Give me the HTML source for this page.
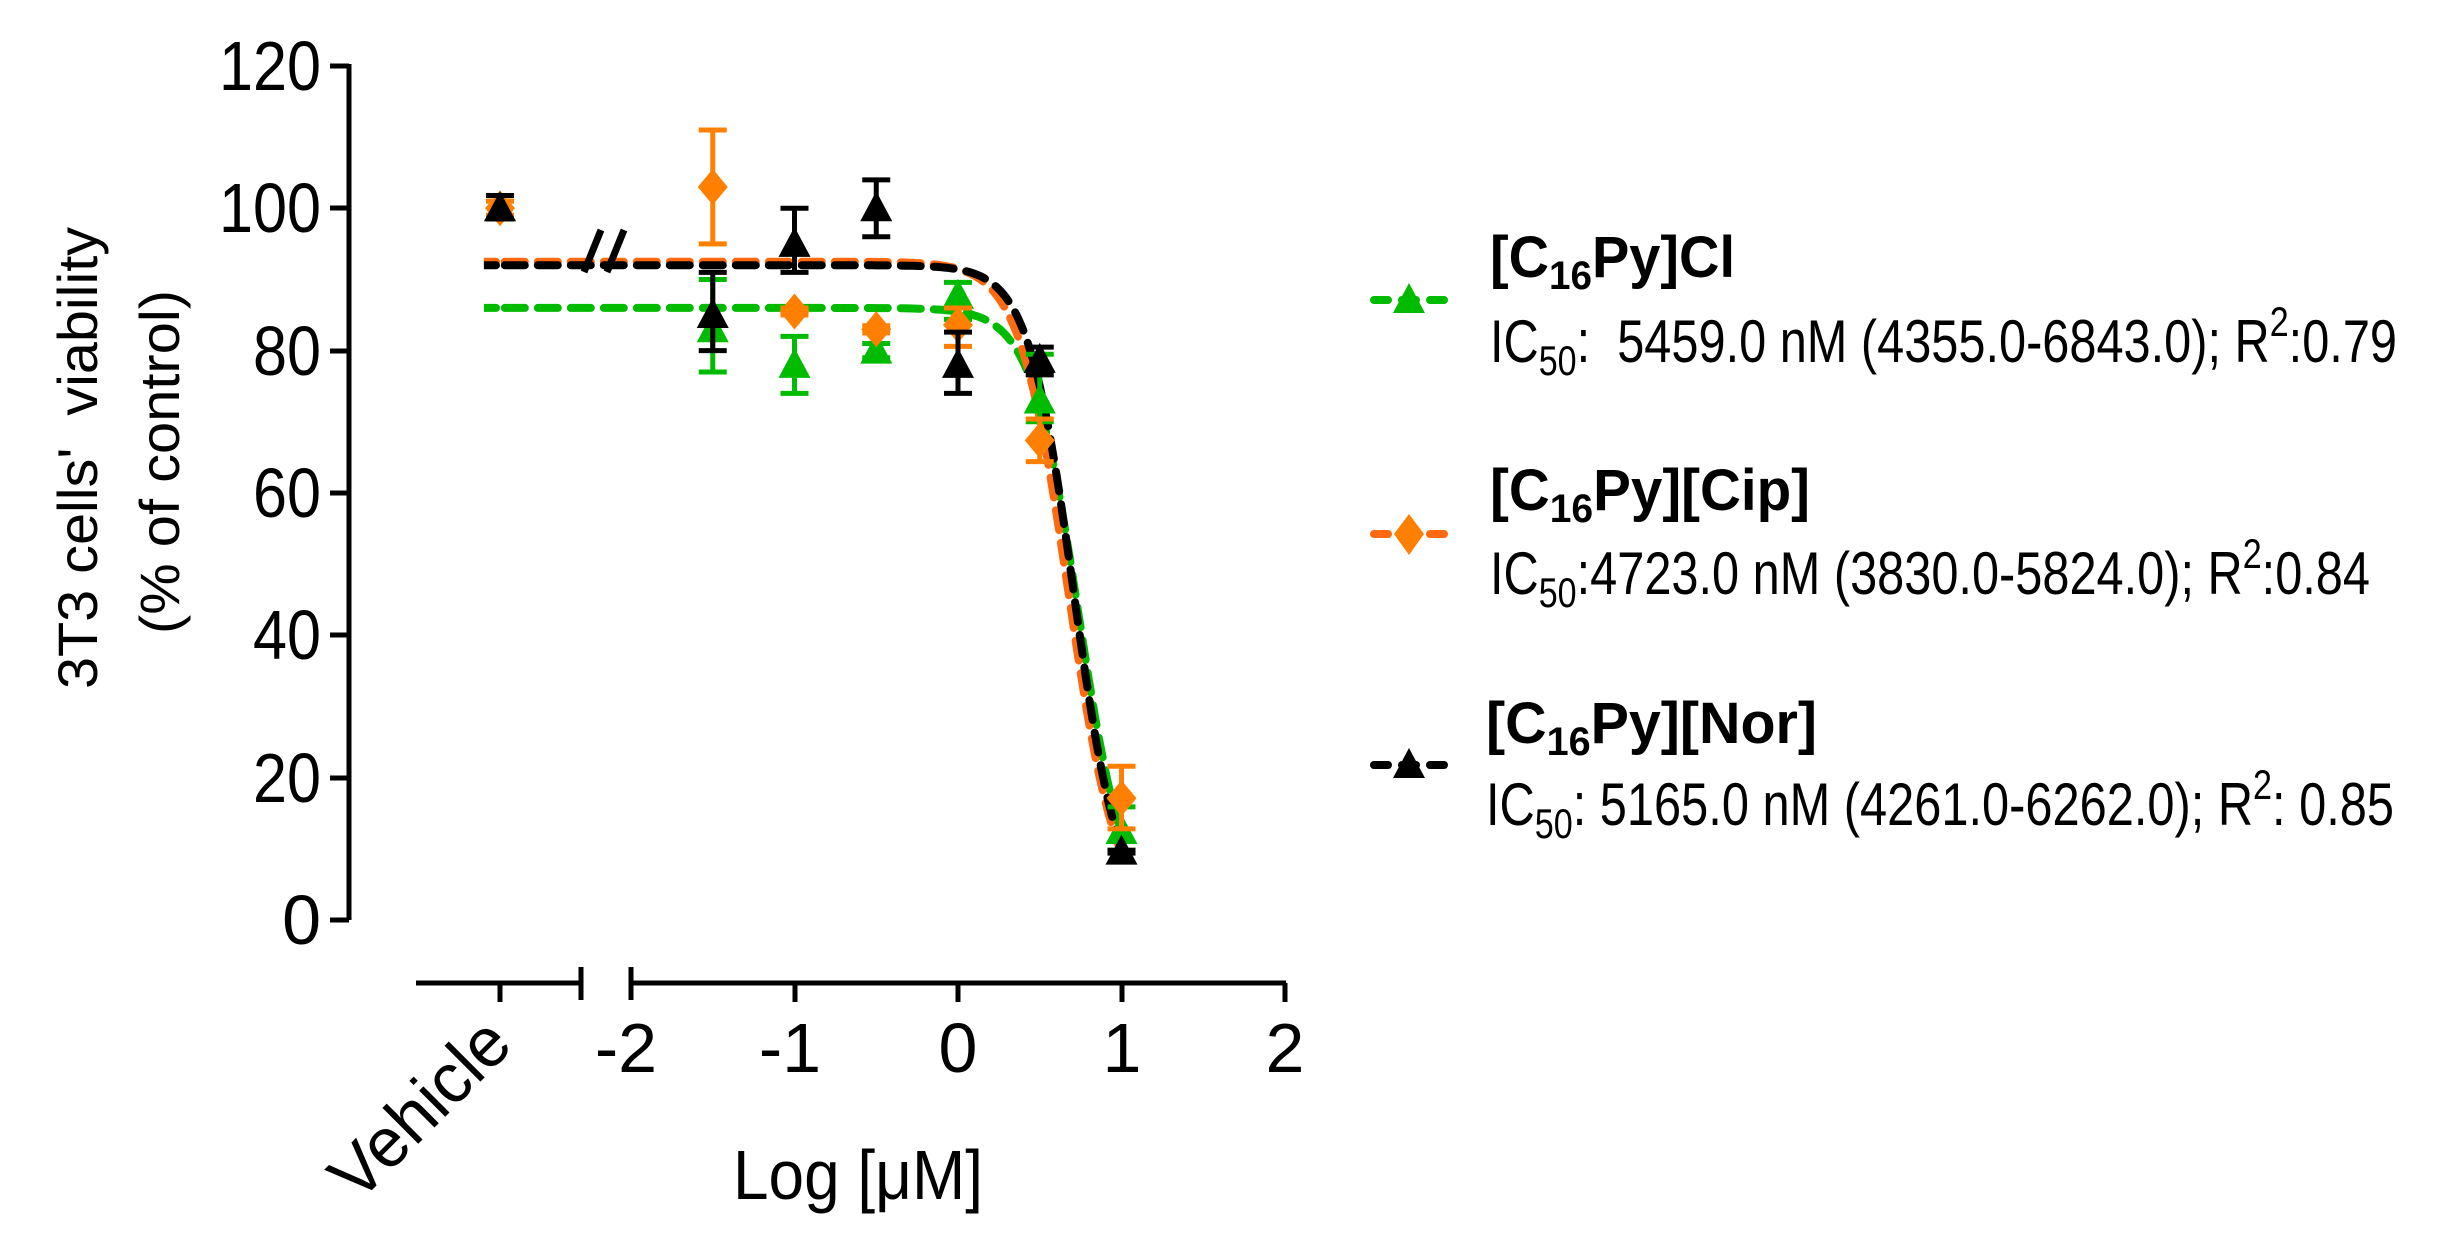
<!DOCTYPE html>
<html><head><meta charset="utf-8"><style>html,body{margin:0;padding:0;background:#fff}svg{display:block}</style></head>
<body>
<svg id="s" xmlns="http://www.w3.org/2000/svg" width="2442" height="1250" viewBox="0 0 2442 1250" font-family="Liberation Sans, Arial, sans-serif">
<rect width="2442" height="1250" fill="#fff"/>
<g stroke="#000" stroke-width="5" fill="none">
<path d="M349,64V920"/>
<path d="M330,66H349M330,208H349M330,351H349M330,493H349M330,635H349M330,778H349M330,920H349"/>
<path d="M416,983H581M581,967V1000M500,983V1002"/>
<path d="M631,983H1286M631,967V1000M795,983V1002M958,983V1002M1122,983V1002M1285,983V1002"/>
</g>
<g font-size="70" text-anchor="end" fill="#000">
<text x="321" y="90" textLength="102" lengthAdjust="spacingAndGlyphs">120</text><text x="321" y="232" textLength="102" lengthAdjust="spacingAndGlyphs">100</text><text x="321" y="375" textLength="68" lengthAdjust="spacingAndGlyphs">80</text><text x="321" y="517" textLength="68" lengthAdjust="spacingAndGlyphs">60</text><text x="321" y="659" textLength="68" lengthAdjust="spacingAndGlyphs">40</text><text x="321" y="802" textLength="68" lengthAdjust="spacingAndGlyphs">20</text><text x="321" y="944">0</text>
</g>
<g font-size="70" text-anchor="middle" fill="#000">
<text x="626" y="1072">-2</text><text x="790" y="1072">-1</text><text x="958" y="1072">0</text><text x="1122" y="1072">1</text><text x="1285" y="1072">2</text>
<text x="858" y="1199" textLength="250" lengthAdjust="spacingAndGlyphs">Log [μM]</text>
</g>
<text x="0" y="0" font-size="70" text-anchor="end" transform="translate(515,1047) rotate(-45)" textLength="222" lengthAdjust="spacingAndGlyphs">Vehicle</text>
<g font-size="56" text-anchor="middle">
<text transform="translate(97,458) rotate(-90)" textLength="462" lengthAdjust="spacingAndGlyphs" xml:space="preserve">3T3 cells'  viability</text>
<text transform="translate(179,462) rotate(-90)" textLength="344" lengthAdjust="spacingAndGlyphs">(% of control)</text>
</g>
<g id="curves" fill="none" stroke-width="8" stroke-dasharray="20 13" stroke-linecap="round"></g>
<g stroke="#000" stroke-width="7"><path d="M584,272L601,230M607,272L624,230"/></g>
<g id="pts"></g>
<g stroke-width="8" stroke-dasharray="14 14" stroke-linecap="round">
<path d="M1374,300H1449" stroke="#00bb00"/>
<path d="M1374,534H1449" stroke="#ff6a10"/>
<path d="M1374,765H1449" stroke="#000"/>
</g>
<polygon points="1409,283 1425,313 1393,313" fill="#00bb00"/>
<polygon points="1409,514 1424,534 1409,555 1394,534" fill="#ff8000"/>
<polygon points="1409,748 1425,778 1393,778" fill="#000"/>
<g font-weight="bold" font-size="58" fill="#000">
<text x="1490" y="277" textLength="245" lengthAdjust="spacingAndGlyphs">[C<tspan font-size="40" dy="12">16</tspan><tspan dy="-12">Py]Cl</tspan></text>
<text x="1490" y="510" textLength="320" lengthAdjust="spacingAndGlyphs">[C<tspan font-size="40" dy="12">16</tspan><tspan dy="-12">Py][Cip]</tspan></text>
<text x="1486" y="743" textLength="331" lengthAdjust="spacingAndGlyphs">[C<tspan font-size="40" dy="12">16</tspan><tspan dy="-12">Py][Nor]</tspan></text>
</g>
<g font-size="60" fill="#000">
<text x="1490" y="362" textLength="907" lengthAdjust="spacingAndGlyphs">IC<tspan font-size="42" dy="13">50</tspan><tspan dy="-13">:&#160; 5459.0 nM (4355.0-6843.0); R</tspan><tspan font-size="42" dy="-26">2</tspan><tspan dy="26">:0.79</tspan></text>
<text x="1490" y="594" textLength="880" lengthAdjust="spacingAndGlyphs">IC<tspan font-size="42" dy="13">50</tspan><tspan dy="-13">:4723.0 nM (3830.0-5824.0); R</tspan><tspan font-size="42" dy="-26">2</tspan><tspan dy="26">:0.84</tspan></text>
<text x="1486" y="825" textLength="908" lengthAdjust="spacingAndGlyphs">IC<tspan font-size="42" dy="13">50</tspan><tspan dy="-13">: 5165.0 nM (4261.0-6262.0); R</tspan><tspan font-size="42" dy="-26">2</tspan><tspan dy="26">: 0.85</tspan></text>
</g>
</svg>
<script>
(function(){
var NS="http://www.w3.org/2000/svg";
function X(l){return 958+163.5*l;}
function Y(v){return 920-7.117*v;}
var curves=[["#00bb00",86,0.737,3.0],["#ff6a10",92.5,0.674,2.9],["#000",92,0.708,3.1]];
var cg=document.getElementById("curves");
curves.forEach(function(c){
 var d="M496,"+Y(c[1]/(1+Math.pow(10,(-2.9-c[2])*c[3]))).toFixed(1);
 for(var l=-2.9;l<=1.02;l+=0.02){var v=c[1]/(1+Math.pow(10,(l-c[2])*c[3]));d+=" L"+X(l).toFixed(1)+","+Y(v).toFixed(1);}
 var p=document.createElementNS(NS,"path");p.setAttribute("d",d);p.setAttribute("stroke",c[0]);cg.appendChild(p);
});
var pg=document.getElementById("pts");
function el(t,a){var e=document.createElementNS(NS,t);for(var k in a)e.setAttribute(k,a[k]);pg.appendChild(e);}
function err(x,v,lo,hi,col){var y1=Y(lo),y2=Y(hi);el("path",{d:"M"+x+","+y1+"V"+y2+"M"+(x-14)+","+y1+"H"+(x+14)+"M"+(x-14)+","+y2+"H"+(x+14),stroke:col,"stroke-width":5,fill:"none"});}
function tri(x,v,col){var y=Y(v);el("polygon",{points:x+","+(y-17)+" "+(x+16)+","+(y+13)+" "+(x-16)+","+(y+13),fill:col});}
function dia(x,v,col){var y=Y(v);el("polygon",{points:x+","+(y-18)+" "+(x+15)+","+y+" "+x+","+(y+18)+" "+(x-15)+","+y,fill:col});}
var G="#00bb00",O="#ff8000",B="#000";
var green=[[500,100,99,101],[X(-1.5),83,77,90],[X(-1),78,74,82],[X(-0.5),80,79,81],[X(0),87.7,84.4,89.6],[X(0.5),73,70,79.5],[X(1),12.5,9.8,15.9]];
var orange=[[500,100,99,101],[X(-1.5),103,95,111],[X(-1),85.5,85,86],[X(-0.5),83,82.5,83.5],[X(0),83.6,80.6,86],[X(0.5),67.4,64.4,70.4],[X(1),17.1,12.8,21.6]];
var black=[[500,100,98.5,101.8],[X(-1.5),85,80,91],[X(-1),95,91,100],[X(-0.5),100,96,104],[X(0),78,74,82.6],[X(0.5),78.7,76.6,80.5],[X(1),9.6,9.4,9.8]];
green.forEach(function(p){err(p[0],p[1],p[2],p[3],G);tri(p[0],p[1],G);});
orange.forEach(function(p){err(p[0],p[1],p[2],p[3],O);dia(p[0],p[1],O);});
black.forEach(function(p){err(p[0],p[1],p[2],p[3],B);tri(p[0],p[1],B);});
})();
</script>
</body></html>
